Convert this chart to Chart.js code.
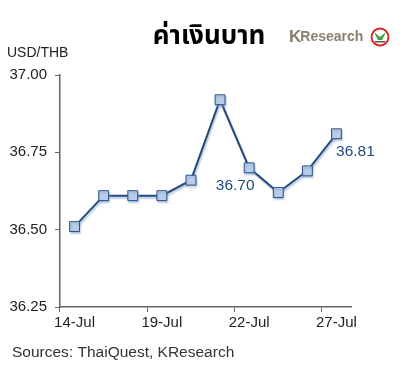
<!DOCTYPE html>
<html><head><meta charset="utf-8">
<script src="https://cdn.jsdelivr.net/npm/chart.js@4.4.0/dist/chart.umd.min.js"></script>
<style>html,body{margin:0;padding:0;background:#fff}#wrap{width:401px;height:378px;position:relative}</style>
</head><body><div id="wrap"><canvas id="c" width="401" height="378"></canvas></div>
<script>
const categories = ['14-Jul','15-Jul','18-Jul','19-Jul','20-Jul','21-Jul','22-Jul','25-Jul','26-Jul','27-Jul'];
const usdThb = [36.51, 36.61, 36.61, 36.61, 36.66, 36.92, 36.70, 36.62, 36.69, 36.81];
const shownLabels = [0, 3, 6, 9];
const valueLabels = [{i: 6, text: '36.70', dx: -14, dy: 18}, {i: 9, text: '36.81', dx: 19, dy: 18}];
const yTicks = {min: 36.25, max: 37.00, step: 0.25};

const FONT = '"Liberation Sans", Arial, sans-serif';
const shadowPlugin = {
  id: 'shadow',
  beforeDatasetDraw(chart) {
    const ctx = chart.ctx; ctx.save();
    ctx.shadowColor = 'rgba(130,160,205,0.6)';
    ctx.shadowOffsetX = 1; ctx.shadowOffsetY = 2; ctx.shadowBlur = 1.5;
  },
  afterDatasetDraw(chart) { chart.ctx.restore(); }
};
const textPlugin = {
  id: 'texts',
  afterDraw(chart) {
    const ctx = chart.ctx; ctx.save();
    ctx.fillStyle = '#000';
    ctx.font = 'bold 26px "Noto Sans Thai", "Noto Sans", "DejaVu Sans", sans-serif';
    ctx.textAlign = 'center'; ctx.textBaseline = 'middle';
    ctx.fillText('ค่าเงินบาท', 209, 39);
    ctx.font = '14px ' + FONT; ctx.textAlign = 'left'; ctx.fillStyle = '#222';
    ctx.fillText('USD/THB', 7, 53);
    ctx.fillStyle = '#333';
    ctx.font = '15.5px ' + FONT;
    ctx.fillText('Sources: ThaiQuest, KResearch', 12, 353);
    // KResearch logo
    ctx.fillStyle = '#8a7e6e';
    ctx.font = 'bold 17px ' + FONT;
    ctx.fillText('K', 289, 37);
    const kw = ctx.measureText('K').width;
    ctx.font = 'bold 14px ' + FONT;
    ctx.fillText('Research', 289 + kw - 1, 37);
    ctx.beginPath(); ctx.arc(380, 37, 8.5, 0, Math.PI * 2);
    ctx.fillStyle = '#fff'; ctx.fill();
    ctx.strokeStyle = '#e02020'; ctx.lineWidth = 1.8; ctx.stroke();
    ctx.fillStyle = '#3aa040';
    ctx.beginPath(); ctx.moveTo(374, 32); ctx.lineTo(380, 37); ctx.lineTo(386, 32); ctx.lineTo(382, 40); ctx.lineTo(378, 40); ctx.closePath(); ctx.fill();
    ctx.fillStyle = '#555';
    ctx.fillRect(375, 41, 10, 1.5);
    // value labels
    const meta = chart.getDatasetMeta(0);
    ctx.fillStyle = '#1f4a7d'; ctx.font = '15.5px ' + FONT; ctx.textAlign = 'center';
    valueLabels.forEach(v => { const p = meta.data[v.i]; ctx.fillText(v.text, p.x + v.dx, p.y + v.dy); });
    ctx.restore();
  }
};
new Chart(document.getElementById('c'), {
  type: 'line',
  data: { labels: categories, datasets: [{
    data: usdThb, borderColor: '#24497a', borderWidth: 2, tension: 0,
    pointStyle: 'rect', pointRadius: 7, pointHoverRadius: 7,
    pointBackgroundColor: '#b9cde8', pointBorderColor: '#2c5288', pointBorderWidth: 1
  }]},
  options: {
    responsive: false, animation: false, devicePixelRatio: 1,
    layout: { padding: { left: 0, top: 75, right: 50, bottom: 31 } },
    plugins: { legend: { display: false }, tooltip: { enabled: false } },
    scales: {
      x: {
        offset: true,
        grid: { offset: true, drawOnChartArea: false, drawTicks: true, tickLength: 5,
          color: c => (shownLabels.includes(c.index) ? '#666' : 'rgba(0,0,0,0)') },
        border: { color: '#666', width: 1.5 },
        ticks: { autoSkip: false, maxRotation: 0, padding: 2, color: '#222', font: { family: FONT, size: 15 },
          callback: (v, i) => (shownLabels.includes(i) ? categories[i] : '') },
        afterFit: s => { s.height = 40; }
      },
      y: {
        min: yTicks.min, max: yTicks.max,
        grid: { drawOnChartArea: false, drawTicks: true, tickLength: 5, color: '#666' },
        border: { color: '#666', width: 1.5 },
        ticks: { stepSize: yTicks.step, padding: 8, color: '#222', font: { family: FONT, size: 15 },
          callback: v => v.toFixed(2) },
        afterFit: s => { s.width = 60; }
      }
    }
  },
  plugins: [shadowPlugin, textPlugin]
});
</script></body></html>
